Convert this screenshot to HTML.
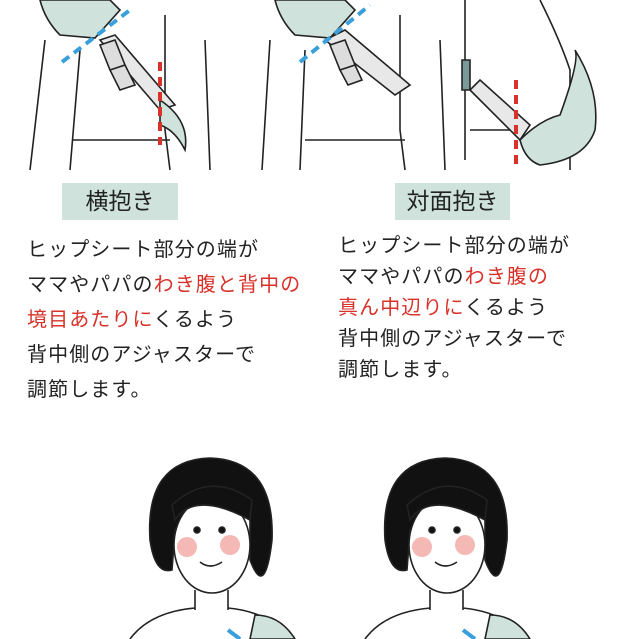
<!DOCTYPE html>
<html><head><meta charset="utf-8"><style>
body{margin:0;width:640px;height:639px;background:#fff;overflow:hidden;position:relative;font-family:"Liberation Sans","Noto Sans CJK JP",sans-serif;color:#222}
.lab{position:absolute;top:183px;height:37px;background:#cfe3dc;font-size:23px;line-height:37px;text-align:center}
.t{position:absolute;font-size:20px;letter-spacing:1.1px;line-height:34px;white-space:nowrap}
.r{color:#d8322a}
svg{position:absolute;left:0;top:0}
</style></head><body>
<svg width="640" height="639" fill="none" stroke="#222" stroke-width="1.6">
<path d="M45 40 L30 170 M80 50 L70 170 M165 15 L165 130 L170 170 M205 40 L210 170 M72 140 L170 140"/>
<path d="M40 0 Q45 20 60 35 L95 38 L120 10 L110 0 Z" fill="#cfe3dc"/>
<path d="M100 40 L160 110 L175 105 L115 35 Z" fill="#e8e8e8"/>
<path d="M160 100 Q190 120 185 150 Q175 130 160 125 Z" fill="#cfe3dc"/>
<path d="M100 45 L115 40 L125 65 L110 70 Z M110 70 L125 65 L135 85 L120 90 Z" fill="#ddd"/>
<path d="M62 62 L130 10" stroke="#3aa0dc" stroke-width="4" stroke-dasharray="9,6"/>
<path d="M160 62 L160 145" stroke="#d8322a" stroke-width="4" stroke-dasharray="9,6"/>
<path d="M270 40 L262 170 M305 50 L300 170 M400 15 L400 130 L405 170 M440 40 L445 170 M305 140 L405 140"/>
<path d="M275 0 Q280 20 295 35 L330 38 L355 10 L345 0 Z" fill="#cfe3dc"/>
<path d="M325 40 L395 95 L410 85 L345 30 Z" fill="#e8e8e8"/>
<path d="M330 45 L345 40 L355 65 L340 70 Z M340 70 L355 65 L362 80 L348 85 Z" fill="#ddd"/>
<path d="M300 62 L370 5" stroke="#3aa0dc" stroke-width="4" stroke-dasharray="9,6"/>
<path d="M465 0 L465 160 M540 0 Q560 40 570 70 L570 170 M470 130 L520 130"/>
<path d="M470 90 L520 140 L530 125 L480 80 Z" fill="#e8e8e8"/>
<path d="M520 140 Q540 120 560 115 Q580 60 575 50 Q600 90 595 130 Q585 160 540 165 Q525 160 520 140 Z" fill="#cfe3dc"/>
<path d="M462 60 L470 60 L470 90 L462 90 Z" fill="#7a9a98"/>
<path d="M516 80 L516 165" stroke="#d8322a" stroke-width="4" stroke-dasharray="9,6"/>
<g>
<path d="M150 540 Q145 460 210 458 Q275 460 272 540 Q265 600 250 560 L250 520 Q230 500 200 505 L175 530 L172 570 Q155 575 150 540 Z" fill="#111"/>
<ellipse cx="212" cy="545" rx="38" ry="48" fill="#fff"/>
<path d="M175 520 Q195 490 250 520 L252 500 Q210 470 172 505 Z" fill="#111"/>
<circle cx="187" cy="547" r="10" fill="#f4b9b5" stroke="none"/><circle cx="230" cy="545" r="10" fill="#f4b9b5" stroke="none"/>
<circle cx="197" cy="530" r="3" fill="#111"/><circle cx="222" cy="530" r="3" fill="#111"/>
<path d="M200 562 Q210 570 222 562"/>
<path d="M195 590 L195 610 M228 590 L228 610 M130 639 Q150 612 195 608 M228 608 Q270 612 290 639"/>
<path d="M255 615 Q280 615 295 639 L250 639 Z" fill="#cfe3dc"/>
<path d="M228 630 L240 639" stroke="#3aa0dc" stroke-width="4"/>
</g>
<g transform="translate(235,0)">
<path d="M150 540 Q145 460 210 458 Q275 460 272 540 Q265 600 250 560 L250 520 Q230 500 200 505 L175 530 L172 570 Q155 575 150 540 Z" fill="#111"/>
<ellipse cx="212" cy="545" rx="38" ry="48" fill="#fff"/>
<path d="M175 520 Q195 490 250 520 L252 500 Q210 470 172 505 Z" fill="#111"/>
<circle cx="187" cy="547" r="10" fill="#f4b9b5" stroke="none"/><circle cx="230" cy="545" r="10" fill="#f4b9b5" stroke="none"/>
<circle cx="197" cy="530" r="3" fill="#111"/><circle cx="222" cy="530" r="3" fill="#111"/>
<path d="M200 562 Q210 570 222 562"/>
<path d="M195 590 L195 610 M228 590 L228 610 M130 639 Q150 612 195 608 M228 608 Q270 612 290 639"/>
<path d="M255 615 Q280 615 295 639 L250 639 Z" fill="#cfe3dc"/>
<path d="M228 630 L240 639" stroke="#3aa0dc" stroke-width="4"/>
</g>
</svg>
<div class="lab" style="left:62px;width:116px">横抱き</div>
<div class="lab" style="left:395px;width:115px">対面抱き</div>
<div class="t" style="left:27px;top:233px;line-height:35px">ヒップシート部分の端が<br>ママやパパの<span class="r">わき腹と背中の</span><br><span class="r">境目あたりに</span>くるよう<br>背中側のアジャスターで<br>調節します。</div>
<div class="t" style="left:338px;top:231px;line-height:31px">ヒップシート部分の端が<br>ママやパパの<span class="r">わき腹の</span><br><span class="r">真ん中辺りに</span>くるよう<br>背中側のアジャスターで<br>調節します。</div>
</body></html>
